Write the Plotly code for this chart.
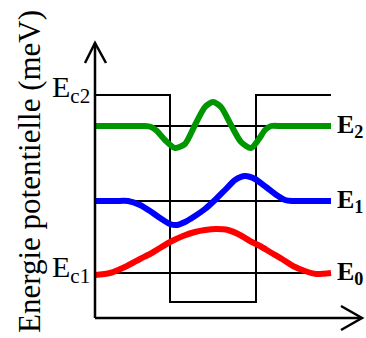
import plotly.graph_objects as go

# Coordinate system: position (x) and energy (y), arbitrary units
# Potential well profile
well_x = [0, 75, 75, 161, 161, 236]
well_v = [223, 223, 16, 16, 223, 223]

# Energy levels
level_names = ["E<sub>0</sub>", "E<sub>1</sub>", "E<sub>2</sub>"]
level_e = [45, 117, 192]
level_x = [0, 236]

# Wavefunctions (drawn offset at their energy level)
psi0_x = [0, 15, 32, 45, 55, 65, 75, 88, 100, 110, 121, 133, 145, 155, 165, 175, 187, 198, 210, 221, 236]
psi0_y = [43, 45, 52, 59, 64, 70, 76, 82, 86, 88, 89, 88, 83, 77, 72, 66, 59, 52, 47, 44, 45]

psi1_x = [0, 20, 33, 45, 55, 65, 75, 82, 90, 100, 110, 120, 130, 140, 150, 160, 171, 180, 190, 197, 210, 236]
psi1_y = [117, 117, 117, 113, 107, 100, 94, 93, 96, 102, 109, 118, 128, 138, 142, 139, 131, 124, 118, 117, 117, 117]

psi2_x = [0, 30, 42, 50, 56, 62, 70, 80, 90, 100, 110, 118, 126, 136, 146, 156, 164, 170, 176, 186, 200, 236]
psi2_y = [192, 192, 192, 192, 191, 187, 178, 170, 174, 193, 211, 216, 211, 193, 176, 170, 179, 188, 192, 192, 192, 192]

ec_labels = ["E<sub>c1</sub>", "E<sub>c2</sub>"]
ec_values = [49, 229]
y_title = "Energie potentielle (meV)"

x_min, x_max = -95, 271
y_min, y_max = -20, 318

fig = go.Figure()

# well profile
fig.add_trace(go.Scatter(x=well_x, y=well_v, mode="lines",
                         line=dict(color="black", width=2), hoverinfo="skip"))
# level lines
for e in level_e:
    fig.add_trace(go.Scatter(x=level_x, y=[e, e], mode="lines",
                             line=dict(color="black", width=2), hoverinfo="skip"))

# wavefunctions
for xs, ys, col in [(psi0_x, psi0_y, "#ff0000"),
                    (psi1_x, psi1_y, "#0000ff"),
                    (psi2_x, psi2_y, "#009600")]:
    fig.add_trace(go.Scatter(x=xs, y=ys, mode="lines",
                             line=dict(color=col, width=6, shape="spline", smoothing=0.7),
                             hoverinfo="skip"))

# axes with open arrowheads
fig.add_shape(type="line", x0=0, y0=0, x1=0, y1=275, line=dict(color="black", width=2.5))
fig.add_shape(type="line", x0=0, y0=0, x1=266, y1=0, line=dict(color="black", width=2.5))
fig.add_shape(type="path", path="M -10,255 L 0,275 L 11,255", line=dict(color="black", width=2.5))
fig.add_shape(type="path", path="M 246,12 L 267,0 L 246,-12", line=dict(color="black", width=2.5))

# right-hand level labels
for name, e in zip(level_names, level_e):
    fig.add_annotation(x=240, y=e, text="<b>" + name + "</b>", showarrow=False,
                       xanchor="left", yanchor="middle",
                       font=dict(family="Liberation Serif", size=26, color="black"))

# Ec labels
for name, e in zip(ec_labels, ec_values):
    fig.add_annotation(x=-3, y=e, text=name, showarrow=False,
                       xanchor="right", yanchor="middle",
                       font=dict(family="Liberation Serif", size=30, color="black"))

# y title
fig.add_annotation(x=-66, y=146, text=y_title, showarrow=False, textangle=-90,
                   xanchor="center", yanchor="middle",
                   font=dict(family="Liberation Serif", size=31, color="black"))

fig.update_layout(
    width=366, height=338,
    margin=dict(l=0, r=0, t=0, b=0),
    paper_bgcolor="white", plot_bgcolor="white",
    showlegend=False,
    xaxis=dict(range=[x_min, x_max], visible=False, fixedrange=True),
    yaxis=dict(range=[y_min, y_max], visible=False, fixedrange=True),
)

fig.write_html("out.html",
               config={"displayModeBar": False},
               post_script="document.body.style.margin='0';document.body.style.overflow='hidden';")
